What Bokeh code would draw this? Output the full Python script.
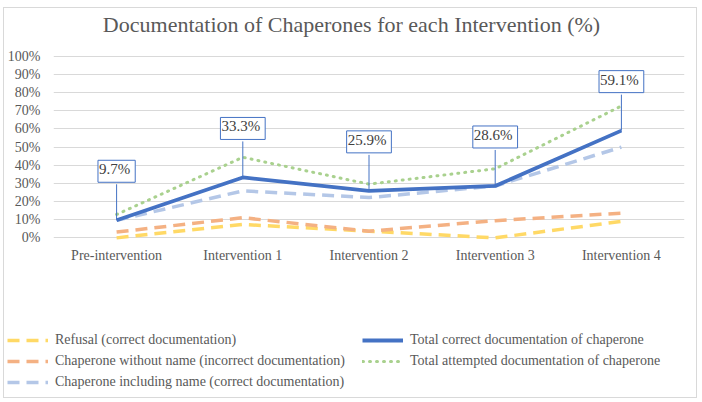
from bokeh.plotting import figure
from bokeh.models import (ColumnDataSource, Label, Legend, LegendItem, FixedTicker,
                          PrintfTickFormatter, Range1d)
from bokeh.embed import file_html
from bokeh.resources import INLINE

categories = ["Pre-intervention", "Intervention 1", "Intervention 2", "Intervention 3", "Intervention 4"]
refusal = [0.0, 7.4, 3.7, 0.0, 9.1]
without_name = [3.2, 11.1, 3.7, 9.5, 13.6]
including_name = [9.7, 25.9, 22.2, 28.6, 50.0]
total_correct = [9.7, 33.3, 25.9, 28.6, 59.1]
total_attempted = [12.9, 44.4, 29.6, 38.1, 72.7]
y_ticks = list(range(0, 101, 10))
title_text = "Documentation of Chaperones for each Intervention (%)"

FONT = "Liberation Serif"
GRAY = "#595959"
BORDER = "1px solid #d9d9d9"

Y_START, Y_END = -2, 100.5
W = 694
H_TITLE, H_MAIN, H_LEG = 30, 230, 131
TOP, FRAME_H = 18, 186
LEFT, RIGHT = 49, 14

# ---- title strip ----
tf = figure(width=W, height=H_TITLE, output_backend="svg", toolbar_location=None,
            x_range=Range1d(0, W), y_range=Range1d(0, H_TITLE), min_border=0,
            x_axis_location=None, y_axis_location=None,
            styles={"margin-left": "3px", "margin-top": "7px", "border-top": BORDER,
                    "border-left": BORDER, "border-right": BORDER})
tf.grid.grid_line_color = None
tf.outline_line_color = None
tf.add_layout(Label(x=W / 2, y=14, text=title_text, text_align="center",
                    text_baseline="middle", text_font=FONT, text_font_size="22px",
                    text_color=GRAY))

# ---- main chart ----
p = figure(x_range=categories, y_range=Range1d(Y_START, Y_END), width=W, height=H_MAIN,
           output_backend="svg", toolbar_location=None,
           min_border_left=LEFT, min_border_right=RIGHT, min_border_top=TOP,
           min_border_bottom=H_MAIN - TOP - FRAME_H,
           styles={"margin-left": "3px", "border-left": BORDER, "border-right": BORDER})
p.outline_line_color = None
p.xgrid.grid_line_color = None
p.ygrid.grid_line_color = "#d9d9d9"
p.ygrid.ticker = FixedTicker(ticks=y_ticks)

p.yaxis.ticker = FixedTicker(ticks=y_ticks)
p.yaxis.formatter = PrintfTickFormatter(format="%d%%")
for ax in (p.xaxis, p.yaxis):
    ax.axis_line_color = None
    ax.major_tick_line_color = None
    ax.minor_tick_line_color = None
    ax.major_label_text_font = FONT
    ax.major_label_text_font_size = "14px"
    ax.major_label_text_color = GRAY
p.yaxis.major_label_standoff = 7
p.xaxis.major_label_standoff = 0

src = ColumnDataSource(dict(x=categories, refusal=refusal, without=without_name,
                            including=including_name, correct=total_correct,
                            attempted=total_attempted))

STYLES = {
    "refusal": dict(line_color="#FFD966", line_width=3.5, line_dash="12 7"),
    "without": dict(line_color="#F4B183", line_width=3.5, line_dash="12 7"),
    "including": dict(line_color="#B4C7E7", line_width=3.5, line_dash="12 7"),
    "attempted": dict(line_color="#A9D18E", line_width=3, line_dash="1 6", line_cap="round"),
    "correct": dict(line_color="#4472C4", line_width=3.8, line_join="round"),
}
for key in ["refusal", "without", "including", "attempted", "correct"]:
    p.line("x", key, source=src, **STYLES[key])

# data labels with leader lines
LEADER_PX = 36
px_per_unit = FRAME_H / (Y_END - Y_START)
lab_src = ColumnDataSource(dict(
    x=categories, y=total_correct,
    y_top=[v + LEADER_PX / px_per_unit for v in total_correct]))
p.segment(x0="x", y0="y", x1="x", y1="y_top", source=lab_src, line_color="#4472C4", line_width=1)
# categorical factor i sits at synthetic coordinate i + 0.5
for i, v in enumerate(total_correct):
    p.add_layout(Label(x=i + 0.5, y=v, text=f"{v}%", y_offset=LEADER_PX + 2,
                       text_align="center", text_baseline="bottom", text_font=FONT,
                       text_font_size="15px", text_color="#404040",
                       background_fill_color="white", border_line_color="#4472C4",
                       border_line_width=1, padding=(1, 5, 1, 5)))

# ---- legend strip ----
lf = figure(width=W, height=H_LEG, output_backend="svg", toolbar_location=None,
            x_range=Range1d(0, 1), y_range=Range1d(0, 1), min_border=0,
            x_axis_location=None, y_axis_location=None,
            styles={"margin-left": "3px", "border-bottom": BORDER,
                    "border-left": BORDER, "border-right": BORDER})
lf.grid.grid_line_color = None
lf.outline_line_color = None
# proxy renderers: one point outside the visible range, used only for legend glyphs
proxy = {k: lf.line(x=[0], y=[-5], **STYLES[k]) for k in STYLES}

def make_legend(items, loc):
    lg = Legend(items=items, location=loc, orientation="vertical")
    lg.label_text_font = FONT
    lg.label_text_font_size = "14px"
    lg.label_text_color = GRAY
    lg.border_line_color = None
    lg.background_fill_alpha = 0
    lg.padding = 0
    lg.margin = 0
    lg.spacing = 3
    lg.label_height = 18
    lg.glyph_height = 18
    lg.glyph_width = 41
    lg.label_standoff = 7
    return lg

legend_a = make_legend([
    LegendItem(label="Refusal (correct documentation)", renderers=[proxy["refusal"]]),
    LegendItem(label="Chaperone without name (incorrect documentation)", renderers=[proxy["without"]]),
    LegendItem(label="Chaperone including name (correct documentation)", renderers=[proxy["including"]]),
], (3, 7))
legend_b = make_legend([
    LegendItem(label="Total correct documentation of chaperone", renderers=[proxy["correct"]]),
    LegendItem(label="Total attempted documentation of chaperone", renderers=[proxy["attempted"]]),
], (358, 28))
lf.add_layout(legend_a, "center")
lf.add_layout(legend_b, "center")

open("out.html", "w").write(file_html([tf, p, lf], INLINE))
